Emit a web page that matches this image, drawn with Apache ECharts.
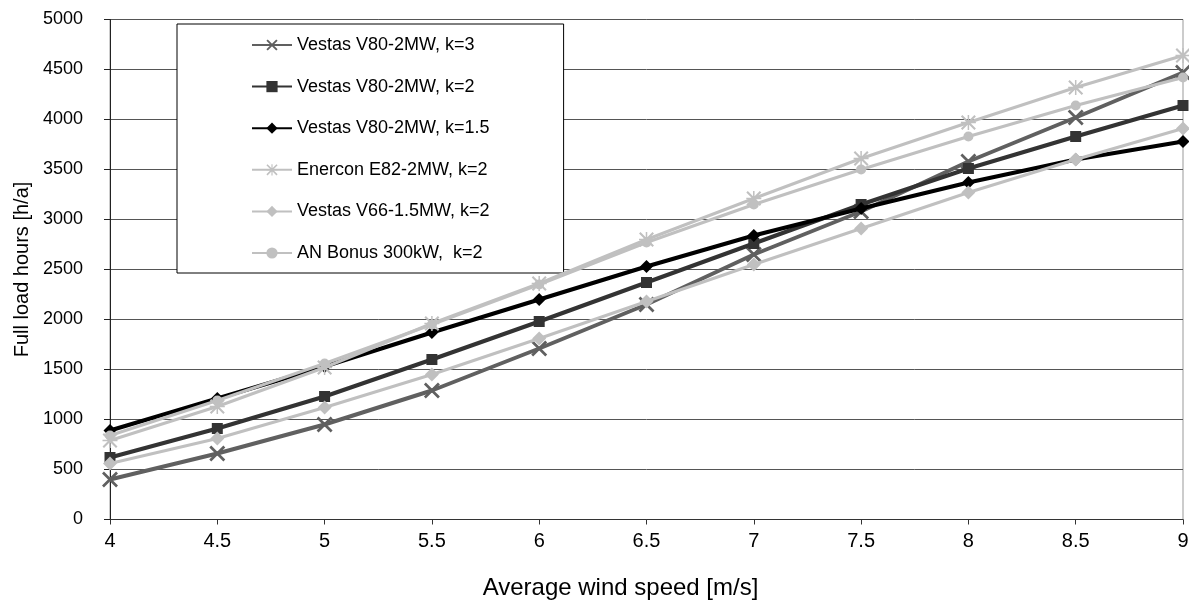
<!DOCTYPE html>
<html>
<head>
<meta charset="utf-8">
<script src="https://cdn.jsdelivr.net/npm/echarts@6/dist/echarts.min.js"></script>
<style>
html,body{margin:0;padding:0;background:#fff;}
#chart{width:1189px;height:601px;}
</style>
</head>
<body>
<div id="chart"></div>
<script>
var windSpeeds = [4, 4.5, 5, 5.5, 6, 6.5, 7, 7.5, 8, 8.5, 9];
var seriesNames = [
  'Vestas V80-2MW, k=3',
  'Vestas V80-2MW, k=2',
  'Vestas V80-2MW, k=1.5',
  'Enercon E82-2MW, k=2',
  'Vestas V66-1.5MW, k=2',
  'AN Bonus 300kW,  k=2'
];
var v80k3   = [400, 660, 950, 1290, 1710, 2150, 2650, 3080, 3580, 4020, 4470];
var v80k2   = [620, 910, 1230, 1600, 1980, 2370, 2760, 3150, 3510, 3830, 4140];
var v80k15  = [890, 1210, 1530, 1870, 2200, 2530, 2840, 3110, 3370, 3600, 3780];
var enercon = [790, 1130, 1520, 1960, 2360, 2800, 3210, 3610, 3970, 4320, 4640];
var v66     = [560, 810, 1120, 1450, 1810, 2180, 2550, 2910, 3270, 3600, 3910];
var bonus   = [840, 1190, 1560, 1950, 2350, 2770, 3150, 3500, 3830, 4140, 4420];

function pairs(vals){ return windSpeeds.map(function(x,i){ return [x, vals[i]]; }); }

var FONT = "'Liberation Sans', Arial, sans-serif";
var crossPath = 'path://M0,1.2L1.2,0L10,8.8L8.8,10Z M8.8,0L10,1.2L1.2,10L0,8.8Z';
var starPath = 'path://M0,1L1,0L10,9L9,10Z M9,0L10,1L1,10L0,9Z M4.5,0L5.5,0L5.5,10L4.5,10Z M0,4.5L10,4.5L10,5.5L0,5.5Z';

function mk(name, vals, color, width, symbol, size, z){
  return {
    name: name, type: 'line', data: pairs(vals),
    symbol: symbol, symbolSize: size, showSymbol: true,
    lineStyle: {color: color, width: width},
    itemStyle: {color: color},
    z: z, animation: false
  };
}

var chart = echarts.init(document.getElementById('chart'), null, {renderer: 'canvas'});
chart.setOption({
  backgroundColor: '#fff',
  animation: false,
  textStyle: {fontFamily: FONT},
  grid: {left: 110, right: 6, top: 19.5, bottom: 81.5, show: true, borderColor: '#999', borderWidth: 1, containLabel: false, outerBoundsMode: 'none'},
  legend: {
    orient: 'vertical', left: 177, top: 24,
    padding: [12, 74, 11, 74],
    itemGap: 23.6, itemWidth: 40, itemHeight: 14,
    backgroundColor: '#fff', borderColor: '#000', borderWidth: 1,
    textStyle: {fontFamily: FONT, fontSize: 18, color: '#000'},
    data: seriesNames
  },
  xAxis: {
    type: 'value', min: 4, max: 9, interval: 0.5,
    name: 'Average wind speed [m/s]', nameLocation: 'middle', nameGap: 57,
    nameTextStyle: {fontFamily: FONT, fontSize: 24, color: '#000', padding: [0, 52, 0, 0]},
    axisLine: {show: true, onZero: false, lineStyle: {color: '#333', width: 1}},
    axisTick: {show: true, length: 5, lineStyle: {color: '#333'}},
    axisLabel: {fontFamily: FONT, fontSize: 20, color: '#000', margin: 12},
    splitLine: {show: false}
  },
  yAxis: {
    type: 'value', min: 0, max: 5000, interval: 500,
    name: 'Full load hours [h/a]', nameLocation: 'middle', nameGap: 74,
    nameTextStyle: {fontFamily: FONT, fontSize: 20, color: '#000'},
    axisLine: {show: true, lineStyle: {color: '#222', width: 1}},
    axisTick: {show: true, length: 6, lineStyle: {color: '#222'}},
    axisLabel: {fontFamily: FONT, fontSize: 18, color: '#000', margin: 27, formatter: function(v){ return String(v); }},
    splitLine: {show: true, lineStyle: {color: '#555', width: 1}}
  },
  series: [
    mk(seriesNames[0], v80k3, '#606060', 4, crossPath, 16, 2),
    mk(seriesNames[1], v80k2, '#333333', 4, 'rect', 11, 3),
    mk(seriesNames[2], v80k15, '#000000', 4, 'diamond', [13, 13], 4),
    mk(seriesNames[3], enercon, '#c0c0c0', 3, starPath, 15, 5),
    mk(seriesNames[4], v66, '#c0c0c0', 3, 'diamond', [14, 14], 6),
    mk(seriesNames[5], bonus, '#c0c0c0', 3, 'circle', 10, 7)
  ]
});
</script>
</body>
</html>
